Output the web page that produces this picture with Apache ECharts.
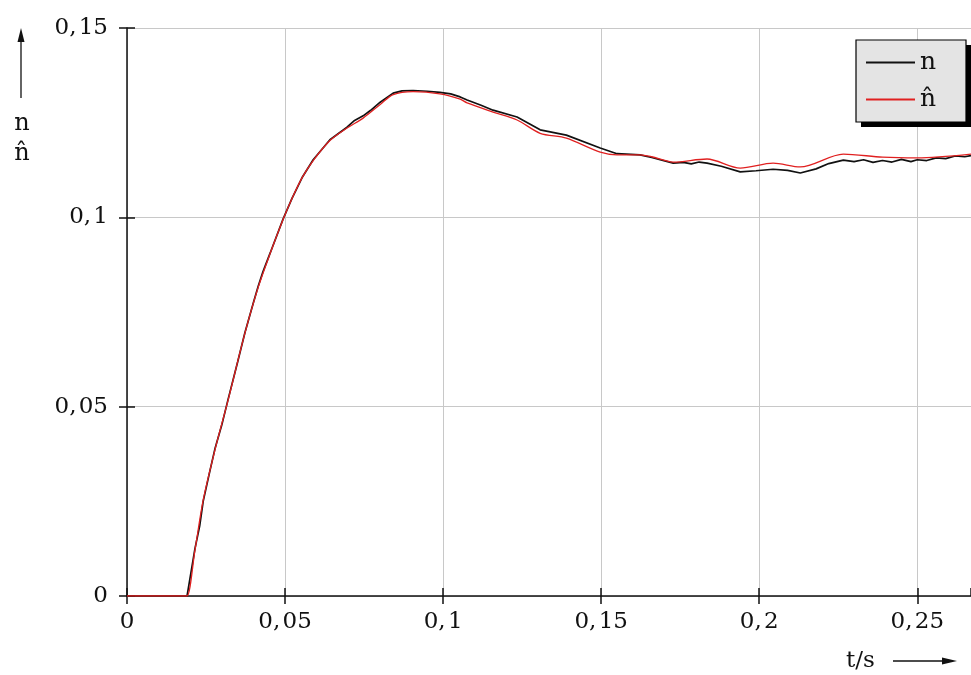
<!DOCTYPE html>
<html>
<head>
<meta charset="utf-8">
<script src="https://cdn.jsdelivr.net/npm/echarts@6/dist/echarts.min.js"></script>
<style>
  html, body { margin: 0; padding: 0; background: #fff; }
  #chart { width: 971px; height: 675px; }
</style>
</head>
<body>
<div id="chart"></div>
<script>
// estimated speed n̂ (red)
const tHat = [0, 0.018, 0.019, 0.0215, 0.0241, 0.0278, 0.032, 0.0373, 0.0415, 0.0453, 0.0494, 0.0522, 0.0554, 0.0589, 0.0642, 0.0696, 0.0747, 0.0801, 0.0842, 0.0905, 0.099, 0.1054, 0.1076, 0.1158, 0.1234, 0.1307, 0.139, 0.1497, 0.155, 0.1623, 0.166, 0.1728, 0.1835, 0.194, 0.2044, 0.213, 0.2266, 0.239, 0.25, 0.267];
const nHat = [0, 0, 0, 0.0121, 0.0253, 0.0385, 0.0518, 0.0694, 0.0815, 0.0905, 0.0995, 0.1050, 0.1105, 0.1150, 0.1203, 0.1236, 0.1262, 0.1298, 0.1324, 0.1332, 0.1326, 0.1312, 0.1302, 0.1278, 0.1257, 0.1222, 0.1209, 0.1172, 0.1165, 0.1165, 0.1160, 0.1146, 0.1154, 0.1130, 0.1143, 0.1133, 0.1167, 0.1159, 0.1157, 0.1167];

// measured speed n (black)
const tMeas = [0, 0.018, 0.019, 0.0215, 0.023, 0.0241, 0.026, 0.0278, 0.030, 0.032, 0.035, 0.0373, 0.040, 0.0415, 0.043, 0.0453, 0.0494, 0.0522, 0.0554, 0.0589, 0.0642, 0.0696, 0.072, 0.0747, 0.077, 0.0801, 0.0842, 0.087, 0.0905, 0.095, 0.099, 0.1024, 0.1054, 0.1076, 0.112, 0.1158, 0.1234, 0.1307, 0.139, 0.1497, 0.155, 0.1623, 0.166, 0.1728, 0.176, 0.1785, 0.181, 0.1835, 0.188, 0.194, 0.199, 0.2044, 0.209, 0.213, 0.218, 0.222, 0.2266, 0.230, 0.233, 0.236, 0.239, 0.242, 0.245, 0.248, 0.25, 0.253, 0.256, 0.259, 0.262, 0.265, 0.267];
const nMeas = [0, 0, 0, 0.0125, 0.0185, 0.0250, 0.0322, 0.0388, 0.0452, 0.0520, 0.0618, 0.0695, 0.0775, 0.0818, 0.0856, 0.0906, 0.0996, 0.1050, 0.1105, 0.1152, 0.1205, 0.1238, 0.1256, 0.1268, 0.1282, 0.1304, 0.1328, 0.1334, 0.1335, 0.1333, 0.1330, 0.1326, 0.1318, 0.1310, 0.1296, 0.1283, 0.1265, 0.1231, 0.1217, 0.1183, 0.1168, 0.1165, 0.1158, 0.1143, 0.1145, 0.1141, 0.1146, 0.1143, 0.1135, 0.1120, 0.1123, 0.1127, 0.1124, 0.1117, 0.1128, 0.1142, 0.1151, 0.1147, 0.1152, 0.1145, 0.1150, 0.1146, 0.1153, 0.1147, 0.1152, 0.1150, 0.1157, 0.1155, 0.1162, 0.1160, 0.1163];

const FONT = "DejaVu Serif";

// decimal comma followed by a hair space
function fmt(v) {
  if (v === 0) return "0";
  return String(+v.toFixed(3)).replace(".", ",\u200A");
}

const chart = echarts.init(document.getElementById("chart"));

const gridStyle = { color: "#c8c8c8", width: 1 };

chart.setOption({
  animation: false,
  backgroundColor: "#fff",
  grid: { left: 127, right: 0, top: 28, bottom: 79 },
  legend: {
    left: 856,
    top: 40,
    orient: "vertical",
    padding: [10, 20, 10, 10],
    itemGap: 12,
    itemWidth: 49,
    itemHeight: 2,
    itemTextGap: 14,
    icon: "rect",
    z: 10,
    textStyle: { fontFamily: FONT, fontSize: 25, color: "#111" },
    data: ["n", "n\u0302"]
  },
  xAxis: [
    {
      type: "value",
      min: 0,
      max: 0.267,
      interval: 0.05,
      axisLine: { lineStyle: { color: "#111", width: 1.5 } },
      axisTick: { length: 8, lineStyle: { color: "#111", width: 1.5 } },
      axisLabel: {
        margin: 15,
        fontFamily: FONT,
        fontSize: 23,
        color: "#111",
        showMaxLabel: false,
        formatter: fmt
      },
      splitLine: { show: true, lineStyle: gridStyle }
    },
    {
      type: "value",
      min: 0,
      max: 0.267,
      interval: 0.05,
      position: "bottom",
      axisLine: { show: false },
      axisTick: { inside: true, length: 8, lineStyle: { color: "#111", width: 1.5 } },
      axisLabel: { show: false },
      splitLine: { show: false }
    }
  ],
  yAxis: [
    {
      type: "value",
      min: 0,
      max: 0.15,
      interval: 0.05,
      axisLine: { show: true, lineStyle: { color: "#111", width: 1.5 } },
      axisTick: { show: true, length: 8, lineStyle: { color: "#111", width: 1.5 } },
      axisLabel: {
        margin: 19,
        fontFamily: FONT,
        fontSize: 23,
        color: "#111",
        formatter: fmt
      },
      splitLine: { show: true, lineStyle: gridStyle }
    },
    {
      type: "value",
      min: 0,
      max: 0.15,
      interval: 0.05,
      position: "left",
      axisLine: { show: false },
      axisTick: { show: true, inside: true, length: 8, lineStyle: { color: "#111", width: 1.5 } },
      axisLabel: { show: false },
      splitLine: { show: false }
    }
  ],
  graphic: [
    // legend box with hard shadow
    { type: "rect", z: 5, shape: { x: 861, y: 45, width: 110, height: 82 }, style: { fill: "#000" } },
    { type: "rect", z: 6, shape: { x: 856, y: 40, width: 110, height: 82 }, style: { fill: "#e4e4e4", stroke: "#000", lineWidth: 1.2 } },
    // y axis caption with arrow
    { type: "line", shape: { x1: 21, y1: 98, x2: 21, y2: 40 }, style: { stroke: "#111", lineWidth: 1.3 } },
    { type: "polygon", shape: { points: [[21, 28], [17.5, 42], [24.5, 42]] }, style: { fill: "#111" } },
    { type: "text", x: 22, y: 124, style: { text: "n", font: "24px 'DejaVu Serif'", fill: "#111", align: "center", verticalAlign: "middle" } },
    { type: "text", x: 22, y: 154, style: { text: "n\u0302", font: "24px 'DejaVu Serif'", fill: "#111", align: "center", verticalAlign: "middle" } },
    // x axis caption with arrow
    { type: "text", x: 846, y: 661, style: { text: "t/s", font: "23px 'DejaVu Serif'", fill: "#111", align: "left", verticalAlign: "middle" } },
    { type: "line", shape: { x1: 893, y1: 661, x2: 944, y2: 661 }, style: { stroke: "#111", lineWidth: 1.3 } },
    { type: "polygon", shape: { points: [[957, 661], [942, 657.5], [942, 664.5]] }, style: { fill: "#111" } }
  ],
  series: [
    {
      name: "n",
      type: "line",
      data: tMeas.map((t, i) => [t, nMeas[i]]),
      symbol: "none",
      lineStyle: { color: "#111", width: 1.7 },
      itemStyle: { color: "#111" },
      z: 3
    },
    {
      name: "n\u0302",
      type: "line",
      data: tHat.map((t, i) => [t, nHat[i]]),
      smooth: 0.3,
      symbol: "none",
      lineStyle: { color: "#e02020", width: 1.3 },
      itemStyle: { color: "#e02020" },
      z: 4
    }
  ]
});
</script>
</body>
</html>
